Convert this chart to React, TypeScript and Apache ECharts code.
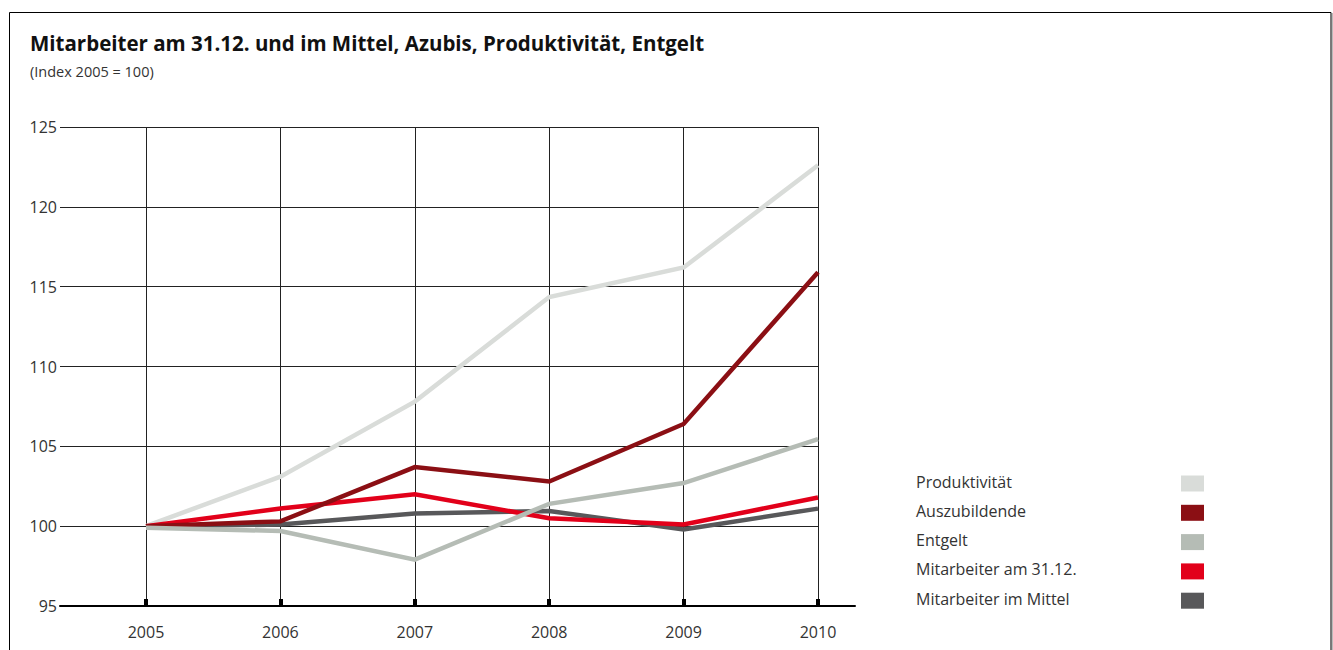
import React, { useEffect, useRef } from "react";
import * as echarts from "echarts";

const years = ["2005", "2006", "2007", "2008", "2009", "2010"];
const produktivitaet = [100, 103.1, 107.8, 114.35, 116.2, 122.6];
const auszubildende = [100, 100.3, 103.7, 102.8, 106.4, 115.9];
const entgelt = [99.9, 99.7, 97.9, 101.4, 102.7, 105.45];
const mitarbeiter3112 = [100, 101.1, 102.0, 100.5, 100.1, 101.8];
const mitarbeiterMittel = [100, 100.1, 100.8, 100.95, 99.8, 101.1];

const seriesNames = [
  "Produktivität",
  "Auszubildende",
  "Entgelt",
  "Mitarbeiter am 31.12.",
  "Mitarbeiter im Mittel",
];
const seriesColors = ["#d9dcd9", "#8b0f14", "#b5bcb5", "#e2001a", "#58585a"];
const seriesData = [produktivitaet, auszubildende, entgelt, mitarbeiter3112, mitarbeiterMittel];
// drawing order (bottom to top)
const drawOrder = [0, 4, 3, 1, 2];

const FONT = "'Open Sans', 'Noto Sans', sans-serif";

export default function App() {
  const ref = useRef<HTMLDivElement>(null);
  useEffect(() => {
    if (!ref.current) return;
    const chart = echarts.init(ref.current, undefined, { renderer: "svg" });
    const top = 127;
    const bottom = 650 - 606;
    const legendGraphics: any[] = [];
    seriesNames.forEach((n, i) => {
      const cy = 483.5 + i * 29.3;
      legendGraphics.push({
        type: "text",
        left: 916,
        top: cy - 10,
        style: { text: n, fill: "#333", font: `16px ${FONT}` },
      });
      legendGraphics.push({
        type: "rect",
        shape: { x: 1181, y: cy - 8, width: 23, height: 16 },
        style: { fill: seriesColors[i] },
      });
    });
    const option: any = {
      animation: false,
      textStyle: { fontFamily: FONT },
      title: [
        {
          text: "Mitarbeiter am 31.12. und im Mittel, Azubis, Produktivität, Entgelt",
          left: 25,
          top: 27,
          textStyle: { fontSize: 20.5, fontWeight: "bold", color: "#111", fontFamily: FONT },
          subtext: "(Index 2005 = 100)",
          subtextStyle: { fontSize: 14.5, color: "#333", fontFamily: FONT },
          itemGap: 11,
        },
      ],
      graphic: [
        {
          type: "polyline",
          shape: { points: [[9.5, 660], [9.5, 12.5], [1331, 12.5], [1331, 660]] },
          style: { stroke: "#000", lineWidth: 1, fill: null },
          silent: true,
        },
        {
          type: "line",
          shape: { x1: 1331.5, y1: 13, x2: 1331.5, y2: 660 },
          style: { stroke: "#777", lineWidth: 2 },
          silent: true,
        },
        ...legendGraphics,
      ],
      grid: [
        { left: 60, width: 795, top, bottom },
        { left: 60, width: 758, top, bottom },
        { left: 146, width: 672, top, bottom },
      ],
      xAxis: [
        {
          gridIndex: 0,
          type: "value",
          min: 0,
          max: 1,
          axisLine: { show: true, lineStyle: { color: "#000", width: 2 } },
          axisTick: { show: false },
          axisLabel: { show: false },
          splitLine: { show: false },
        },
        {
          gridIndex: 1,
          type: "value",
          min: 0,
          max: 1,
          show: false,
        },
        {
          gridIndex: 2,
          type: "category",
          data: years,
          boundaryGap: false,
          axisLine: { show: false },
          axisTick: { show: true, inside: true, length: 7, lineStyle: { color: "#000", width: 4 } },
          axisLabel: { color: "#333", fontSize: 16, margin: 18, fontFamily: FONT },
          splitLine: { show: true, lineStyle: { color: "#222", width: 1 } },
        },
      ],
      yAxis: [
        {
          gridIndex: 0,
          type: "value",
          min: 95,
          max: 125,
          interval: 5,
          axisLine: { show: false },
          axisTick: { show: false },
          axisLabel: { color: "#333", fontSize: 16, margin: 3, fontFamily: FONT },
          splitLine: { show: false },
        },
        {
          gridIndex: 1,
          type: "value",
          min: 95,
          max: 125,
          interval: 5,
          axisLine: { show: false },
          axisTick: { show: false },
          axisLabel: { show: false },
          splitLine: { show: true, lineStyle: { color: "#222", width: 1 } },
        },
        {
          gridIndex: 2,
          type: "value",
          min: 95,
          max: 125,
          interval: 5,
          show: false,
          splitLine: { show: false },
        },
      ],
      series: drawOrder.map((i) => ({
        name: seriesNames[i],
        type: "line",
        xAxisIndex: 2,
        yAxisIndex: 2,
        data: seriesData[i],
        symbol: "none",
        lineStyle: { color: seriesColors[i], width: 4.5, cap: "butt", join: "miter" },
        itemStyle: { color: seriesColors[i] },
        z: 3,
      })),
    };
    chart.setOption(option);
    return () => chart.dispose();
  }, []);
  return <div ref={ref} style={{ width: 1333, height: 650, position: "absolute", left: 0, top: 0 }} />;
}
